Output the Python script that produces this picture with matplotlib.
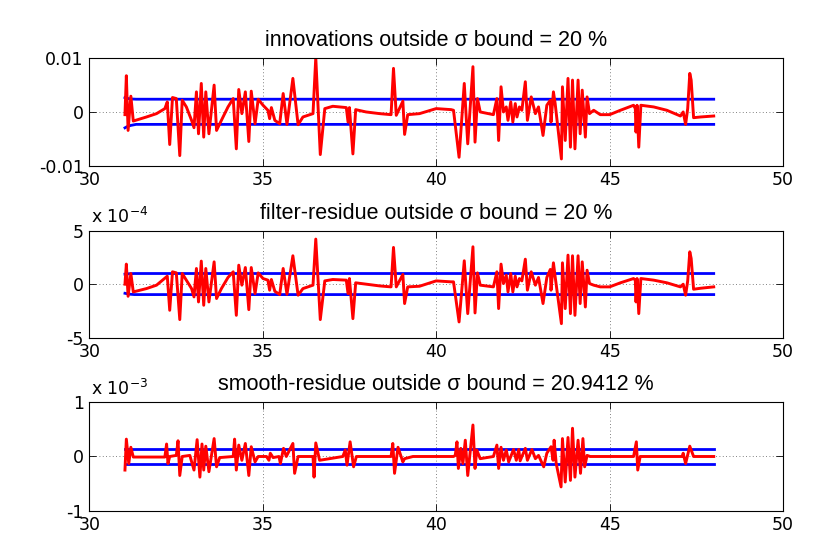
"""
Innovation / filter-residue / smooth-residue check against the sigma bound.
Three stacked panels, MATLAB look.
"""

import matplotlib
matplotlib.use("Agg")
import matplotlib.pyplot as plt
from matplotlib.ticker import FixedLocator

plt.rcParams["font.family"] = ["DejaVu Sans"]
plt.rcParams["mathtext.fontset"] = "dejavusans"
plt.rcParams["mathtext.default"] = "regular"

FS = 12.5          # tick labels, exponent
FS_TITLE = 15.5    # panel titles
TITLE_FONT = ["Liberation Sans", "DejaVu Sans"]

# =============================================================================
# Data
# =============================================================================

# --- innovations (units of 1e-3) ---
innov_t = [
    31.03, 31.07, 31.12, 31.20, 31.27, 31.65, 31.94, 32.18, 32.25, 32.32,
    32.40, 32.51, 32.61, 32.68, 32.80, 32.95, 33.02, 33.09, 33.15, 33.23,
    33.30, 33.36, 33.45, 33.60, 33.67, 33.81, 34.00, 34.15, 34.24, 34.31,
    34.40, 34.50, 34.60, 34.67, 34.78, 34.87, 35.01, 35.15, 35.20, 35.25,
    35.35, 35.49, 35.59, 35.70, 35.87, 36.02, 36.16, 36.45, 36.53, 36.66,
    36.79, 37.02, 37.41, 37.46, 37.50, 37.60, 37.68, 37.98, 38.37, 38.70,
    38.77, 38.85, 39.04, 39.09, 39.18, 39.52, 40.00, 40.43, 40.50, 40.66,
    40.81, 40.91, 41.06, 41.12, 41.19, 41.27, 41.65, 41.75, 41.80, 41.87,
    41.94, 42.02, 42.07, 42.15, 42.21, 42.28, 42.33, 42.40, 42.47, 42.57,
    42.63, 42.74, 42.86, 42.95, 43.08, 43.19, 43.29, 43.31, 43.38, 43.43,
    43.61, 43.64, 43.72, 43.80, 43.87, 43.93, 44.00, 44.09, 44.15, 44.21,
    44.30, 44.35, 44.42, 44.54, 44.73, 45.00, 45.31, 45.69, 45.74, 45.76,
    45.79, 45.84, 45.90, 46.27, 46.65, 47.04, 47.12, 47.19, 47.25, 47.31,
    47.35, 47.42, 47.62, 48.00,
]
innov_e3 = [
    -0.56, 6.65, -3.48, 2.86, -1.74, -0.99, -0.37, 0.56, 1.80, -6.09,
    2.61, 2.42, -8.14, 2.11, 0.87, -1.61, -2.98, 3.66, -4.10, 5.22,
    -4.72, 3.66, -4.10, 4.91, -3.48, -1.61, 0.87, 2.42, -6.89, 4.10,
    -0.37, 3.66, -5.53, 3.79, -2.24, 2.30, 1.18, 0.25, -1.30, 0.75,
    -1.61, -2.24, 3.35, -2.36, 6.15, -2.42, -0.99, -0.37, 10.0, -7.95,
    0.56, 0.99, 0.75, -1.93, 0.75, -7.83, 0.37, -0.06, -0.37, -0.56,
    8.01, -0.68, 1.93, -4.22, -0.56, -0.37, 0.56, 0.37, 0.25, -8.45,
    5.22, -5.96, 8.32, -5.65, 2.42, -0.06, -0.56, 2.42, -5.34, 4.60,
    -0.06, 0.87, -1.61, 1.80, -1.93, 1.49, -0.99, 0.87, 0.25, 5.53,
    -1.61, 2.73, -0.37, 0.87, -4.41, 1.18, 2.11, -1.93, 3.66, 1.49,
    -8.76, 4.60, -5.34, 6.15, -6.58, 5.84, -6.89, 5.84, -4.10, 3.98,
    -4.72, 2.73, -0.37, 0.25, -0.56, -0.56, 0.25, 1.18, 0.56, -3.79,
    1.18, -6.58, 1.18, 0.87, 0.25, -0.81, -0.06, -2.36, 0.56, 7.08,
    5.84, -1.12, -0.99, -0.81,
]
innov_bound_t = [31.03, 31.10, 31.20, 31.35, 48.00]
innov_upper_e3 = [2.60, 2.45, 2.35, 2.30, 2.30]
innov_lower_e3 = [-3.00, -2.75, -2.55, -2.36, -2.36]

# --- filter residue (units of 1e-4) ---
filt_t = [
    31.03, 31.07, 31.12, 31.20, 31.27, 31.65, 31.94, 32.25, 32.32, 32.40,
    32.51, 32.61, 32.68, 32.80, 32.95, 33.02, 33.09, 33.15, 33.23, 33.30,
    33.36, 33.45, 33.60, 33.67, 33.81, 34.00, 34.15, 34.24, 34.31, 34.40,
    34.50, 34.60, 34.67, 34.78, 34.87, 35.01, 35.15, 35.20, 35.25, 35.35,
    35.49, 35.59, 35.70, 35.87, 36.02, 36.16, 36.45, 36.53, 36.66, 36.79,
    37.02, 37.41, 37.46, 37.50, 37.60, 37.68, 37.98, 38.37, 38.70, 38.77,
    38.85, 39.04, 39.09, 39.18, 39.52, 40.00, 40.43, 40.50, 40.66, 40.81,
    40.91, 41.06, 41.12, 41.19, 41.27, 41.65, 41.75, 41.80, 41.87, 41.94,
    42.02, 42.07, 42.15, 42.21, 42.28, 42.33, 42.40, 42.47, 42.57, 42.63,
    42.74, 42.86, 42.95, 43.08, 43.19, 43.29, 43.31, 43.38, 43.43, 43.61,
    43.64, 43.72, 43.80, 43.87, 43.93, 44.00, 44.09, 44.15, 44.21, 44.30,
    44.35, 44.42, 44.54, 44.73, 45.00, 45.31, 45.69, 45.74, 45.76, 45.79,
    45.84, 45.90, 46.27, 46.65, 47.04, 47.12, 47.19, 47.25, 47.31, 47.35,
    47.42, 47.62, 48.00,
]
filt_e4 = [
    0.00, 1.88, -1.13, 1.00, -0.72, -0.41, -0.09, 0.75, -2.44, 1.16,
    1.06, -3.31, 1.00, 0.38, -0.41, -1.19, 1.47, -1.66, 2.16, -1.97,
    1.47, -1.66, 2.09, -1.34, -0.41, 0.63, 1.16, -2.91, 1.78, -0.09,
    1.56, -2.38, 1.56, -0.88, 1.06, 0.53, 0.38, -0.56, 0.44, -0.66,
    -0.97, 1.47, -0.94, 2.66, -1.03, -0.41, -0.09, 4.22, -3.31, 0.31,
    0.44, 0.38, -0.88, 0.53, -3.22, 0.13, 0.00, -0.16, -0.25, 3.44,
    -0.25, 0.91, -1.81, -0.25, -0.19, 0.31, 0.22, 0.22, -3.53, 2.19,
    -2.75, 3.50, -2.69, 1.06, -0.09, -0.25, 1.16, -2.28, 1.88, 0.06,
    0.84, -0.72, 1.00, -0.72, 0.75, -0.25, 0.53, 0.31, 2.34, -0.56,
    1.16, -0.09, 0.63, -1.81, 0.63, 1.38, -0.56, 2.00, 0.69, -3.69,
    2.00, -2.28, 2.72, -2.75, 2.66, -2.91, 2.66, -1.81, 2.09, -2.13,
    1.31, 0.06, -0.09, -0.25, -0.25, 0.13, 0.53, 0.38, -1.66, 0.53,
    -2.75, 0.53, 0.38, 0.13, -0.25, 0.00, -1.03, 0.31, 3.03, 2.41,
    -0.47, -0.38, -0.25,
]
filt_bound_t = [31.03, 31.15, 31.30, 48.00]
filt_upper_e4 = [0.94, 0.98, 1.00, 1.00]
filt_lower_e4 = [-0.85, -0.93, -0.97, -0.97]

# --- smooth residue (units of 1e-3) ---
smooth_t = [
    31.03, 31.07, 31.14, 31.20, 31.27, 32.18, 32.23, 32.27, 32.32, 32.51,
    32.56, 32.61, 32.68, 32.90, 33.02, 33.11, 33.19, 33.25, 33.30, 33.36,
    33.45, 33.60, 33.67, 33.76, 34.15, 34.19, 34.24, 34.31, 34.40, 34.50,
    34.60, 34.67, 34.78, 34.87, 35.11, 35.18, 35.22, 35.30, 35.47, 35.51,
    35.60, 35.68, 35.87, 35.92, 36.02, 36.45, 36.48, 36.53, 36.64, 37.31,
    37.38, 37.43, 37.52, 37.62, 37.70, 38.70, 38.75, 38.80, 38.90, 39.04,
    39.09, 39.33, 40.50, 40.55, 40.60, 40.64, 40.71, 40.77, 40.84, 40.91,
    41.06, 41.12, 41.17, 41.27, 41.65, 41.75, 41.80, 41.87, 41.94, 42.02,
    42.09, 42.23, 42.31, 42.38, 42.42, 42.57, 42.63, 42.76, 42.86, 42.95,
    43.10, 43.19, 43.31, 43.37, 43.40, 43.46, 43.60, 43.64, 43.72, 43.80,
    43.87, 43.93, 44.00, 44.09, 44.16, 44.23, 44.28, 44.35, 44.44, 45.69,
    45.77, 45.81, 45.88, 47.09, 47.12, 47.19, 47.31, 47.42, 48.00,
]
smooth_e3 = [
    -0.25, 0.32, -0.13, 0.17, -0.01, -0.01, 0.23, -0.13, 0.00, 0.02,
    0.29, -0.35, 0.00, 0.02, -0.25, 0.31, -0.38, 0.23, -0.25, 0.19,
    -0.28, 0.33, -0.19, -0.02, 0.00, 0.32, -0.25, 0.21, -0.07, 0.24,
    -0.35, 0.18, -0.10, 0.00, 0.00, -0.07, 0.06, -0.02, 0.00, -0.13,
    0.15, 0.00, 0.24, -0.31, 0.00, 0.00, -0.38, 0.25, -0.07, 0.00,
    0.12, -0.16, 0.27, -0.19, 0.00, 0.00, 0.24, -0.31, 0.17, -0.10,
    -0.04, 0.00, 0.00, 0.02, 0.27, -0.22, 0.15, -0.13, 0.30, -0.35,
    0.58, -0.22, 0.12, -0.04, 0.00, 0.21, -0.22, 0.17, -0.07, 0.12,
    -0.10, 0.13, -0.07, 0.13, -0.08, 0.15, -0.07, 0.13, -0.04, 0.02,
    -0.19, 0.06, 0.18, -0.07, 0.30, -0.13, -0.56, 0.33, -0.47, 0.35,
    -0.44, 0.52, -0.38, 0.30, -0.31, 0.33, -0.19, 0.02, 0.00, 0.00,
    0.27, -0.25, 0.00, 0.00, 0.06, -0.13, 0.19, 0.00, 0.00,
]
smooth_bound_t = [31.03, 48.00]
smooth_upper_e3 = [0.13, 0.13]
smooth_lower_e3 = [-0.13, -0.13]

PANELS = [
    dict(title="innovations outside \u03c3 bound = 20 %",
         t=innov_t, y=innov_e3, scale=1e-3,
         bt=innov_bound_t, up=innov_upper_e3, lo=innov_lower_e3,
         yticks=[-10, 0, 10], ylabels=["-0.01", "0", "0.01"], exp=None),
    dict(title="filter-residue outside \u03c3 bound = 20 %",
         t=filt_t, y=filt_e4, scale=1e-4,
         bt=filt_bound_t, up=filt_upper_e4, lo=filt_lower_e4,
         yticks=[-5, 0, 5], ylabels=["-5", "0", "5"], exp=-4),
    dict(title="smooth-residue outside \u03c3 bound = 20.9412 %",
         t=smooth_t, y=smooth_e3, scale=1e-3,
         bt=smooth_bound_t, up=smooth_upper_e3, lo=smooth_lower_e3,
         yticks=[-1, 0, 1], ylabels=["-1", "0", "1"], exp=-3),
]

# =============================================================================
# Plot
# =============================================================================

fig = plt.figure(figsize=(8.3, 5.54), dpi=100)

# [left, bottom, width, height] in figure fractions
AX_POS = [
    [0.1075, 0.701, 0.836, 0.195],
    [0.1075, 0.3905, 0.836, 0.193],
    [0.1075, 0.078, 0.836, 0.196],
]

for pos, p in zip(AX_POS, PANELS):
    ax = fig.add_axes(pos)
    s = p["scale"]
    ax.plot(p["bt"], [v * s for v in p["up"]], color="#0000ff", lw=2.0)
    ax.plot(p["bt"], [v * s for v in p["lo"]], color="#0000ff", lw=2.0)
    ax.plot(p["t"], [v * s for v in p["y"]], color="#ff0000", lw=2.1)

    ax.set_xlim(30, 50)
    ax.set_ylim(p["yticks"][0] * s, p["yticks"][-1] * s)
    ax.set_xticks([30, 35, 40, 45, 50])
    ax.yaxis.set_major_locator(FixedLocator([v * s for v in p["yticks"]]))
    ax.set_yticklabels(p["ylabels"])

    ax.tick_params(direction="in", top=True, right=True, length=5,
                   width=0.6, labelsize=FS)
    ax.tick_params(axis="y", pad=4)
    ax.tick_params(axis="x", pad=4)
    ax.grid(True, color="0.35", linestyle=(0, (1, 3)), lw=0.6)
    for sp in ax.spines.values():
        sp.set_linewidth(0.8)

    ax.set_title(p["title"], fontsize=FS_TITLE, family=TITLE_FONT, pad=8.5)
    if p["exp"] is not None:
        ax.text(0.002, 1.07, f"x 10$^{{{p['exp']}}}$", transform=ax.transAxes,
                fontsize=FS, ha="left", va="baseline")

plt.savefig("out.png", dpi=100)
plt.close()
